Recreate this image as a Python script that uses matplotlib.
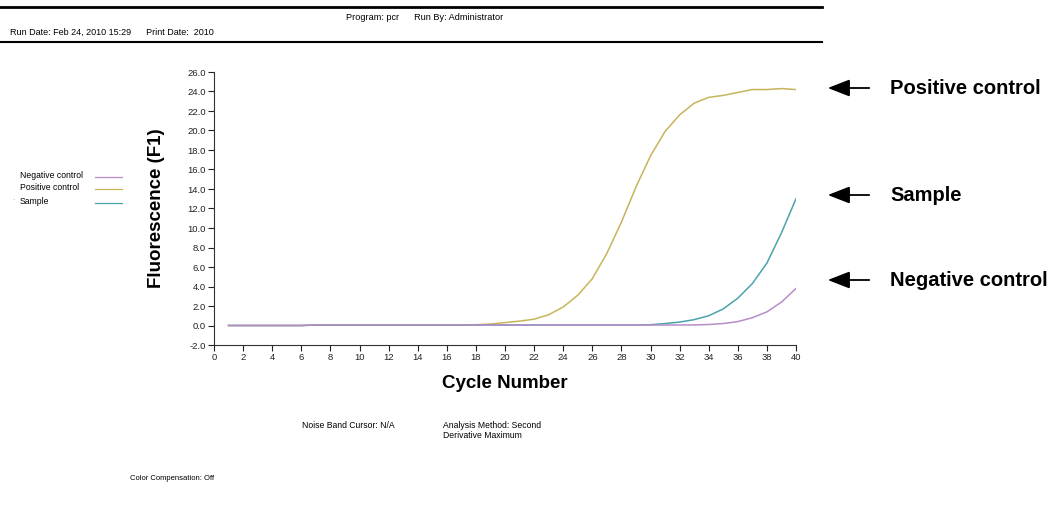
import numpy as np
import matplotlib
matplotlib.use('Agg')
import matplotlib.pyplot as plt
from matplotlib.patches import FancyArrowPatch

plt.rcParams['font.family'] = ['Liberation Sans', 'DejaVu Sans']

# fluorescence readings per cycle
cycles = np.arange(1, 41)
positive = [0.0, 0.0, 0.0, 0.0, 0.0, 0.0, 0.05, 0.05, 0.05, 0.05,
            0.05, 0.05, 0.05, 0.05, 0.05, 0.05, 0.05, 0.08, 0.15, 0.3,
            0.45, 0.65, 1.1, 1.9, 3.1, 4.8, 7.4, 10.6, 14.2, 17.4,
            19.9, 21.6, 22.8, 23.4, 23.6, 23.9, 24.2, 24.2, 24.3, 24.2]
sample = [0.0, 0.0, 0.0, 0.0, 0.0, 0.0, 0.05, 0.05, 0.05, 0.05,
          0.05, 0.05, 0.05, 0.05, 0.05, 0.05, 0.05, 0.05, 0.05, 0.05,
          0.05, 0.05, 0.05, 0.05, 0.05, 0.05, 0.05, 0.05, 0.05, 0.08,
          0.2, 0.35, 0.6, 1.0, 1.7, 2.8, 4.3, 6.4, 9.5, 13.0]
negative = [0.0, 0.0, 0.0, 0.0, 0.0, 0.0, 0.05, 0.05, 0.05, 0.05,
            0.05, 0.05, 0.05, 0.05, 0.05, 0.05, 0.05, 0.05, 0.05, 0.05,
            0.05, 0.05, 0.05, 0.05, 0.05, 0.05, 0.05, 0.05, 0.05, 0.05,
            0.05, 0.05, 0.06, 0.1, 0.2, 0.4, 0.8, 1.4, 2.4, 3.8]

c_neg = '#b88cc8'
c_pos = '#c8b45a'
c_smp = '#4aa3aa'

W, H = 1058, 511
fig = plt.figure(figsize=(W / 100, H / 100), dpi=100)
ax = fig.add_axes([214 / W, 1 - 345 / H, 582 / W, 273 / H])

ax.plot(cycles, positive, color=c_pos, lw=1.1)
ax.plot(cycles, sample, color=c_smp, lw=1.1)
ax.plot(cycles, negative, color=c_neg, lw=1.1)

ax.set_xlim(0, 40)
ax.set_ylim(-2, 26)
ax.set_xticks(np.arange(0, 41, 2))
ax.set_yticks(np.arange(-2, 27, 2))
ax.set_yticklabels(['{:.1f}'.format(v) for v in np.arange(-2, 27, 2)])
ax.tick_params(labelsize=6.8, colors='#222222', length=4, width=0.8, pad=2)
for s in ['top', 'right']:
    ax.spines[s].set_visible(False)
for s in ['left', 'bottom']:
    ax.spines[s].set_color('#333333')
ax.set_ylabel('Fluorescence (F1)', fontsize=13.5, fontweight='bold', labelpad=16)
ax.set_xlabel('Cycle Number', fontsize=13.5, fontweight='bold', labelpad=9)

# header
fig.add_artist(plt.Line2D([0, 822 / W], [1 - 7 / H] * 2, color='black', lw=2))
fig.add_artist(plt.Line2D([0, 822 / W], [1 - 42 / H] * 2, color='black', lw=1.5))
fig.text(425 / W, 1 - 17 / H, 'Program: pcr      Run By: Administrator',
         fontsize=6.6, ha='center', va='center')
fig.text(10 / W, 1 - 32 / H, 'Run Date: Feb 24, 2010 15:29      Print Date:  2010',
         fontsize=6.5, ha='left', va='center')

# left legend
for name, col, yy in [('Negative control', c_neg, 176),
                      ('Positive control', c_pos, 188),
                      ('Sample', c_smp, 201)]:
    fig.text(20 / W, 1 - yy / H, name, fontsize=6.2, ha='left', va='center')
    fig.add_artist(plt.Line2D([95 / W, 122 / W], [1 - (yy + 1.5) / H] * 2,
                              color=col, lw=0.9))
fig.text(12 / W, 1 - 201 / H, '·', fontsize=5, color='#888888', va='center')

# arrows with labels
for name, yy in [('Positive control', 88), ('Sample', 195), ('Negative control', 280)]:
    fig.add_artist(FancyArrowPatch(
        (872 / W, 1 - yy / H), (825 / W, 1 - yy / H),
        transform=fig.transFigure, arrowstyle='-|>,head_length=9,head_width=3.5',
        color='black', lw=1.3, mutation_scale=1.5))
    fig.text(890 / W, 1 - yy / H, name, fontsize=14.5, fontweight='bold',
             ha='left', va='center')

# footer
fig.text(302 / W, 1 - 426 / H, 'Noise Band Cursor: N/A', fontsize=6.2, va='center')
fig.text(443 / W, 1 - 426 / H, 'Analysis Method: Second', fontsize=6.2, va='center')
fig.text(443 / W, 1 - 436 / H, 'Derivative Maximum', fontsize=6.2, va='center')
fig.text(130 / W, 1 - 478 / H, 'Color Compensation: Off', fontsize=5.5, va='center')

fig.savefig('out.png', dpi=100)
